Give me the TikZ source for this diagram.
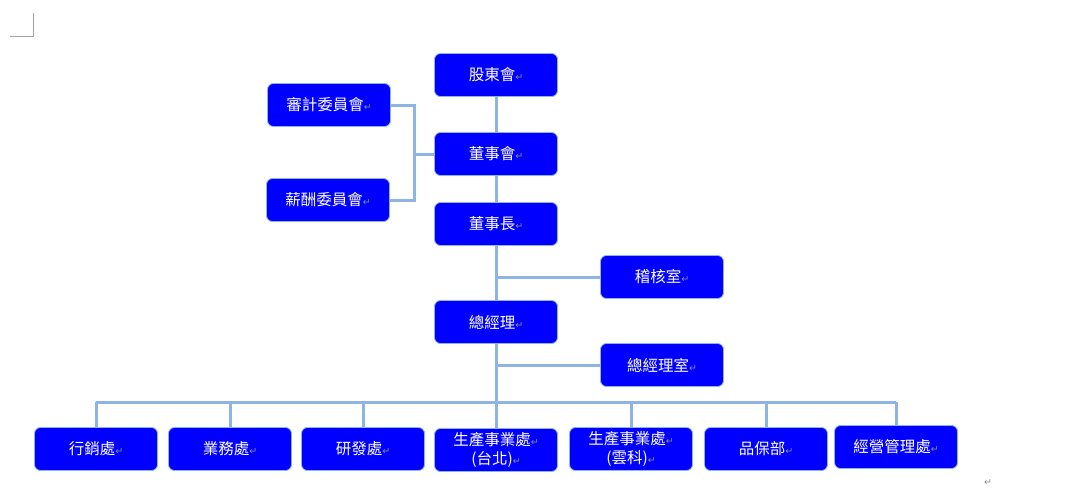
\documentclass[tikz,border=0pt]{standalone}
\usepackage{fontspec}
\setmainfont{Noto Sans CJK TC}
\newfontfamily\djv{DejaVu Sans}
\definecolor{lineblue}{RGB}{141,180,226}
\definecolor{boxblue}{RGB}{0,0,255}
\definecolor{markgray}{RGB}{140,140,140}
\newcommand{\pmk}{{\djv\fontsize{9.5}{9.5}\selectfont\textcolor{markgray}{↵}}}
\tikzset{
  orgbox/.style={draw=lineblue, line width=0.8pt, fill=boxblue, rounded corners=6pt,
    minimum width=123pt, minimum height=43pt, inner sep=1pt, text=white,
    font=\fontsize{15.5}{19}\selectfont, align=center},
  conn/.style={draw=lineblue, line width=3pt},
}
\begin{document}
\begin{tikzpicture}[x=1pt,y=-1pt]
\useasboundingbox (0,0) rectangle (1074,499);
% corner mark
\draw[markgray!80, line width=0.8pt] (10,36) -- (33,36) -- (33,13);
\node[inner sep=0pt] (endmark) at (988,483) {\pmk};

\coordinate (jx) at (414,154);
\coordinate (bus) at (496,402);

\node[orgbox] (sh) at (496,75) {股東會\pmk};
\node[orgbox] (aud) at (329,105) {審計委員會\pmk};
\node[orgbox] (bd) at (496,154) {董事會\pmk};
\node[orgbox] (pay) at (328,200) {薪酬委員會\pmk};
\node[orgbox] (ch) at (496,224) {董事長\pmk};
\node[orgbox] (ia) at (662,277) {稽核室\pmk};
\node[orgbox] (gm) at (496,322) {總經理\pmk};
\node[orgbox] (gmo) at (662,365) {總經理室\pmk};

\node[orgbox] (b1) at (96,449) {行銷處\pmk};
\node[orgbox] (b2) at (230,449) {業務處\pmk};
\node[orgbox] (b3) at (363,449) {研發處\pmk};
\node[orgbox] (b4) at (496,450) {生產事業處\pmk\\(台北)\pmk};
\node[orgbox] (b5) at (631,449) {生產事業處\pmk\\(雲科)\pmk};
\node[orgbox] (b6) at (766,449) {品保部\pmk};
\node[orgbox] (b7) at (896,447) {經營管理處\pmk};

\draw[conn] (aud.east) -| (jx) |- (pay.east);
\draw[conn] (jx) -- (bd.west);
\draw[conn] (sh.south) -- (bd.north);
\draw[conn] (bd.south) -- (ch.north);
\draw[conn] (ch.south) -- (gm.north);
\draw[conn] (gm.north |- ia.west) -- (ia.west);
\draw[conn] (gm.south) -- (b4.north);
\draw[conn] (gm.south |- gmo.west) -- (gmo.west);
\draw[conn] (b1.north |- bus) -- (b7.north |- bus);
\draw[conn] (b1.north |- bus) -- (b1.north);
\draw[conn] (b2.north |- bus) -- (b2.north);
\draw[conn] (b3.north |- bus) -- (b3.north);
\draw[conn] (b5.north |- bus) -- (b5.north);
\draw[conn] (b6.north |- bus) -- (b6.north);
\draw[conn] (b7.north |- bus) -- (b7.north);
\end{tikzpicture}
\end{document}
